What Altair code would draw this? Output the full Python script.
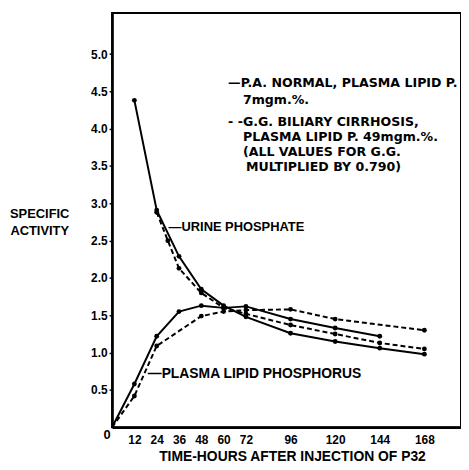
import altair as alt
import pandas as pd

# ---- data ----
hours_plasma_pa = [0, 12, 24, 36, 48, 60, 72, 96, 120, 144]
plasma_pa = [0, 0.58, 1.22, 1.55, 1.63, 1.60, 1.62, 1.45, 1.33, 1.22]

hours_plasma_gg = [0, 12, 24, 48, 60, 72, 96, 120, 168]
plasma_gg = [0, 0.42, 1.09, 1.49, 1.55, 1.57, 1.58, 1.45, 1.30]

hours_urine_pa = [12, 24, 36, 48, 60, 72, 96, 120, 144, 168]
urine_pa = [4.38, 2.91, 2.29, 1.85, 1.63, 1.48, 1.26, 1.15, 1.06, 0.98]

hours_urine_gg = [24, 30, 36, 48, 60, 72, 96, 120, 144, 168]
urine_gg = [2.88, 2.50, 2.13, 1.80, 1.60, 1.52, 1.37, 1.25, 1.13, 1.05]

x_ticks = [12, 24, 36, 48, 60, 72, 96, 120, 144, 168]
y_ticks = [0.5, 1.0, 1.5, 2.0, 2.5, 3.0, 3.5, 4.0, 4.5, 5.0]

rows = []
for name, style, hrs, vals in [
    ("plasma_pa", "solid", hours_plasma_pa, plasma_pa),
    ("plasma_gg", "dashed", hours_plasma_gg, plasma_gg),
    ("urine_pa", "solid", hours_urine_pa, urine_pa),
    ("urine_gg", "dashed", hours_urine_gg, urine_gg),
]:
    for h, v in zip(hrs, vals):
        rows.append({"series": name, "style": style, "hour": h, "value": v})
df = pd.DataFrame(rows)

FONT = "Liberation Sans"
FONT2 = "DejaVu Sans"
W, H = 352, 418

xs = alt.Scale(domain=[0, 187.7], nice=False, zero=False)
ys = alt.Scale(domain=[0, 5.55], nice=False)

base = alt.Chart(df).encode(
    x=alt.X("hour:Q", scale=xs, axis=alt.Axis(
        values=x_ticks, title=None, grid=False, ticks=False,
        domainColor="black", domainWidth=2.5, labelPadding=7,
        labelFont=FONT, labelFontWeight="bold", labelFontSize=12,
        labelColor="black")),
    y=alt.Y("value:Q", scale=ys, axis=alt.Axis(
        values=y_ticks, format=".1f", title=None, grid=False,
        tickSize=3, tickColor="black", tickWidth=1.5,
        domainColor="black", domainWidth=2.5, labelPadding=2,
        labelFont=FONT, labelFontWeight="bold", labelFontSize=12,
        labelColor="black")),
    detail="series:N",
)

solid = base.transform_filter(alt.datum.style == "solid").mark_line(
    color="black", strokeWidth=2)
dashed = base.transform_filter(alt.datum.style == "dashed").mark_line(
    color="black", strokeWidth=2, strokeDash=[5, 3])
points = base.transform_filter(alt.datum.hour > 0).mark_circle(
    color="black", size=24, opacity=1)

one = pd.DataFrame({"a": [0]})
OX, OY = 113, 11  # page position of plot origin (top-left)


def label(txt, px, py, size=12, align="left", font=FONT):
    return alt.Chart(one).mark_text(
        font=font, fontWeight="bold", fontSize=size, align=align,
        baseline="middle", color="black").encode(
        x=alt.value(px - OX), y=alt.value(py - OY), text=alt.value(txt))


texts = [
    label("—P.A. NORMAL, PLASMA LIPID P.", 230, 82, 12.7, font=FONT2),
    label("7mgm.%.", 245, 99, 12.7, font=FONT2),
    label("- -G.G. BILIARY CIRRHOSIS,", 230, 121, 12.7, font=FONT2),
    label("PLASMA LIPID P.  49mgm.%.", 245, 136, 12.7, font=FONT2),
    label("(ALL VALUES FOR G.G.", 245, 151, 12.7, font=FONT2),
    label("MULTIPLIED BY 0.790)", 248, 166, 12.7, font=FONT2),
    label("—URINE PHOSPHATE", 170, 227, 13),
    label("—PLASMA LIPID PHOSPHORUS", 149, 375, 14),
    label("SPECIFIC", 40, 214, 13, "center"),
    label("ACTIVITY", 40, 231, 13, "center"),
    label("0", 108, 437, 13, "center"),
    label("TIME-HOURS AFTER INJECTION OF P32", 295, 459, 14, "center"),
]

chart = alt.layer(solid, dashed, points, *texts).properties(
    width=W, height=H,
    background="white",
    autosize=alt.AutoSizeParams(type="none"),
    padding={"left": OX - 8, "top": OY - 8, "right": 0, "bottom": 39},
).configure_view(stroke="black", strokeWidth=2)

chart.save("out.html", embed_options={"renderer": "svg", "actions": False})
